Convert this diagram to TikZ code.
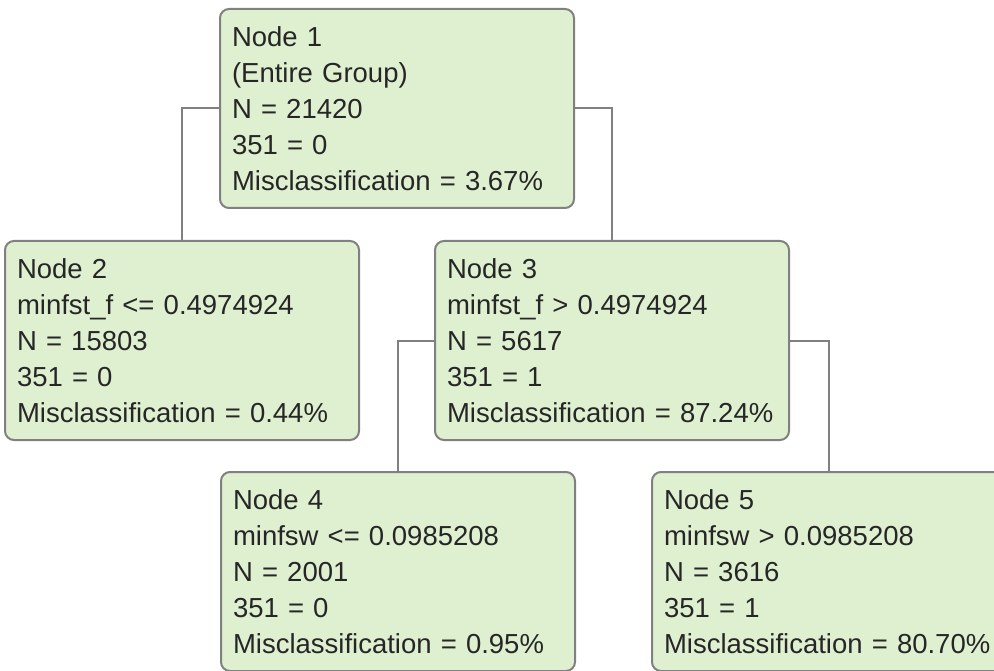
\documentclass[tikz,border=0pt]{standalone}
\usepackage{fontspec}
\setmainfont{Liberation Sans}
\definecolor{boxfill}{RGB}{223,240,208}
\definecolor{boxline}{RGB}{128,128,128}
\begin{document}
\begin{tikzpicture}[x=1pt,y=-1pt,
        font=\fontsize{27.5}{36}\selectfont,
        treenode/.style={draw=boxline,fill=boxfill,line width=2pt,rounded corners=9pt,
            anchor=north west,align=left,text width=330pt,inner xsep=12pt,inner ysep=0pt,
            minimum height=199pt,text=black!85},
        branch/.style={draw=boxline,line width=2pt}]
                \useasboundingbox (0,0) rectangle (994,671);
                \clip (0,0) rectangle (994,671);
                \node[treenode] (n1) at (219,8) {Node 1\\(Entire Group)\\N = 21420\\351 = 0\\Misclassification = 3.67\%};
                \node[treenode] (n2) at (4,240) {Node 2\\minfst\_f <= 0.4974924\\N = 15803\\351 = 0\\Misclassification = 0.44\%};
                \node[treenode] (n3) at (434,240) {Node 3\\minfst\_f > 0.4974924\\N = 5617\\351 = 1\\Misclassification = 87.24\%};
                \node[treenode] (n4) at (220,471) {Node 4\\minfsw <= 0.0985208\\N = 2001\\351 = 0\\Misclassification = 0.95\%};
                \node[treenode] (n5) at (651,471) {Node 5\\minfsw > 0.0985208\\N = 3616\\351 = 1\\Misclassification = 80.70\%};
                \foreach \p/\l/\r in {n1/n2/n3,n3/n4/n5}{
                    \draw[branch] (\p.west) -| (\l.north);
                    \draw[branch] (\p.east) -| (\r.north);
                }
            \end{tikzpicture}
\end{document}
